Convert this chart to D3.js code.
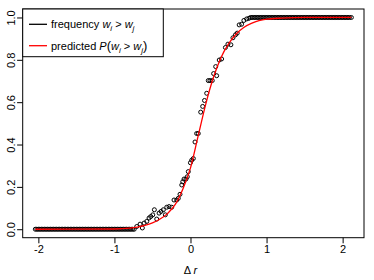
<!DOCTYPE html>
<html>
<head>
<meta charset="utf-8">
<script src="https://cdn.jsdelivr.net/npm/d3@7"></script>
<style>
  body { margin: 0; background: #fff; }
  svg { font-family: "Liberation Sans", Arial, Helvetica, sans-serif; }
</style>
</head>
<body>
<div class="chart"></div>
<script>
//Data
var lowX = [-2.04,-2.02,-2.00,-1.98,-1.96,-1.94,-1.92,-1.90,-1.88,-1.86,-1.84,-1.82,-1.80,-1.78,-1.76,-1.74,
  -1.72,-1.70,-1.68,-1.66,-1.64,-1.62,-1.60,-1.58,-1.56,-1.54,-1.52,-1.50,-1.48,-1.46,-1.44,-1.42,-1.40,-1.38,
  -1.36,-1.34,-1.32,-1.30,-1.28,-1.26,-1.24,-1.22,-1.20,-1.18,-1.16,-1.14,-1.12,-1.10,-1.08,-1.06,-1.04,-1.02,
  -1.00,-0.98,-0.96,-0.94,-0.92,-0.90,-0.88,-0.86,-0.84,-0.82,-0.80,-0.78,-0.76,-0.74];
var highX = [0.79,0.81,0.83,0.85,0.87,0.89,0.91,0.93,0.95,0.97,0.99,1.01,1.03,1.05,1.07,1.09,1.11,1.13,1.15,
  1.17,1.19,1.21,1.23,1.25,1.27,1.29,1.31,1.33,1.35,1.37,1.39,1.41,1.43,1.45,1.47,1.49,1.51,1.53,1.55,1.57,
  1.59,1.61,1.63,1.65,1.67,1.69,1.71,1.73,1.75,1.77,1.79,1.81,1.83,1.85,1.87,1.89,1.91,1.93,1.95,1.97,1.99,
  2.01,2.03,2.05,2.07,2.09,2.115];
var midX = [-0.706,-0.663,-0.633,-0.610,-0.575,-0.545,-0.522,-0.496,-0.475,-0.444,-0.413,-0.387,-0.357,-0.331,
  -0.312,-0.282,-0.247,-0.217,-0.181,-0.160,-0.138,-0.115,-0.102,-0.085,-0.059,-0.042,-0.029,-0.001,0.016,0.037,
  0.059,0.081,0.102,0.134,0.160,0.184,0.213,0.234,0.256,0.286,0.304,0.331,0.344,0.378,0.409,0.459,0.492,0.531,
  0.558,0.591,0.614,0.640,0.672,0.702,0.738,0.768];
var midY = [0.013,0.024,0.006,0.029,0.037,0.053,0.060,0.068,0.092,0.048,0.076,0.084,0.092,0.068,
  0.104,0.107,0.104,0.138,0.138,0.146,0.165,0.209,0.224,0.237,0.237,0.248,0.272,0.314,0.326,0.334,
  0.412,0.452,0.452,0.553,0.580,0.608,0.642,0.702,0.702,0.702,0.735,0.768,0.725,0.799,0.804,0.858,0.874,0.871,
  0.904,0.918,0.926,0.965,0.968,0.986,0.993,0.996];
var predX = [-2.04,-1.0,-0.8,-0.7,-0.6,-0.5,-0.4,-0.3,-0.2,-0.1,0.0,0.1,0.2,0.3,0.4,0.5,0.6,0.7,0.8,0.9,1.0,1.2,1.5,2.115];
var predY = [0,0.001,0.005,0.01,0.018,0.03,0.048,0.075,0.117,0.19,0.29,0.44,0.59,0.715,0.81,0.875,0.922,0.953,0.972,0.985,0.992,0.997,1,1];
var xTicks = [-2,-1,0,1,2];
var yTicks = [0,0.2,0.4,0.6,0.8,1.0];

var points = lowX.map(function(d){ return [d, 0]; })
  .concat(midX.map(function(d, i){ return [d, midY[i]]; }))
  .concat(highX.map(function(d){ return [d, 1]; }));
var pred = predX.map(function(d, i){ return [d, predY[i]]; });

//Layout
var W = 374, H = 280;
var box = {left: 22.7, right: 364, top: 9, bottom: 237.7};

var x = d3.scaleLinear().domain([-2.206, 2.281]).range([box.left, box.right]);
var y = d3.scaleLinear().domain([-0.04, 1.04]).range([box.bottom, box.top]);

var svg = d3.select('.chart').append('svg')
  .attr('width', W)
  .attr('height', H);

//Axes
var xAxis = svg.append('g')
  .attr('transform', 'translate(0,' + box.bottom + ')')
  .call(d3.axisBottom(x).tickValues(xTicks).tickSize(5.6).tickPadding(2.4)
    .tickFormat(function(d){ return d < 0 ? '-' + Math.abs(d) : d; }));
xAxis.select('.domain').remove();
xAxis.selectAll('text').attr('font-size', 11).attr('fill', '#000').attr('font-family', null);
xAxis.selectAll('line').attr('stroke', '#000');

var yAxis = svg.append('g')
  .attr('transform', 'translate(' + box.left + ',0)')
  .call(d3.axisLeft(y).tickValues(yTicks).tickSize(5.6).tickFormat(d3.format('.1f')));
yAxis.select('.domain').remove();
yAxis.selectAll('line').attr('stroke', '#000');
yAxis.selectAll('text')
  .attr('font-size', 11).attr('fill', '#000').attr('font-family', null)
  .attr('x', null).attr('dy', null)
  .attr('text-anchor', 'middle')
  .attr('transform', 'translate(-7.5,0) rotate(-90)');

//Points
svg.append('g').selectAll('circle')
  .data(points)
  .enter()
  .append('circle')
  .attr('cx', function(d){ return x(d[0]); })
  .attr('cy', function(d){ return y(d[1]); })
  .attr('r', 2)
  .attr('fill', 'none')
  .attr('stroke', '#000')
  .attr('stroke-width', 1);

//Predicted curve
svg.append('path')
  .datum(pred)
  .attr('d', d3.line().x(function(d){ return x(d[0]); }).y(function(d){ return y(d[1]); })
    .curve(d3.curveMonotoneX))
  .attr('fill', 'none')
  .attr('stroke', '#f00')
  .attr('stroke-width', 1.3);

//Box
svg.append('rect')
  .attr('x', box.left).attr('y', box.top)
  .attr('width', box.right - box.left).attr('height', box.bottom - box.top)
  .attr('fill', 'none').attr('stroke', '#000').attr('stroke-width', 1);

//Axis title
var xt = svg.append('text')
  .attr('x', x(0)).attr('y', 273.5)
  .attr('text-anchor', 'middle')
  .attr('font-size', 11);
xt.append('tspan').text('\u0394 ');
xt.append('tspan').attr('font-style', 'italic').text('r');

//Legend
var leg = svg.append('g');
leg.append('rect')
  .attr('x', box.left).attr('y', box.top)
  .attr('width', 140.6).attr('height', 47.7)
  .attr('fill', '#fff').attr('stroke', '#000').attr('stroke-width', 1);
leg.append('line')
  .attr('x1', 29).attr('x2', 47).attr('y1', 24.3).attr('y2', 24.3)
  .attr('stroke', '#000').attr('stroke-width', 1.3);
leg.append('line')
  .attr('x1', 29).attr('x2', 47).attr('y1', 45.7).attr('y2', 45.7)
  .attr('stroke', '#f00').attr('stroke-width', 1.3);

var t1 = leg.append('text').attr('x', 51).attr('y', 28.3).attr('font-size', 11);
t1.append('tspan').text('frequency ');
t1.append('tspan').attr('font-style', 'italic').text('w');
t1.append('tspan').attr('font-style', 'italic').attr('font-size', 8).attr('dy', 3).text('i');
t1.append('tspan').attr('dy', -3).text(' > ');
t1.append('tspan').attr('font-style', 'italic').text('w');
t1.append('tspan').attr('font-style', 'italic').attr('font-size', 8).attr('dy', 3).text('j');

var t2 = leg.append('text').attr('x', 51).attr('y', 49.7).attr('font-size', 11);
t2.append('tspan').text('predicted ');
t2.append('tspan').attr('font-style', 'italic').text('P');
t2.append('tspan').attr('font-size', 13).attr('dy', 0.5).text('(');
t2.append('tspan').attr('font-style', 'italic').attr('dy', -0.5).text('w');
t2.append('tspan').attr('font-style', 'italic').attr('font-size', 8).attr('dy', 3).text('i');
t2.append('tspan').attr('dy', -3).text(' > ');
t2.append('tspan').attr('font-style', 'italic').text('w');
t2.append('tspan').attr('font-style', 'italic').attr('font-size', 8).attr('dy', 3).text('j');
t2.append('tspan').attr('font-size', 13).attr('dy', -2.5).text(')');
</script>
</body>
</html>
